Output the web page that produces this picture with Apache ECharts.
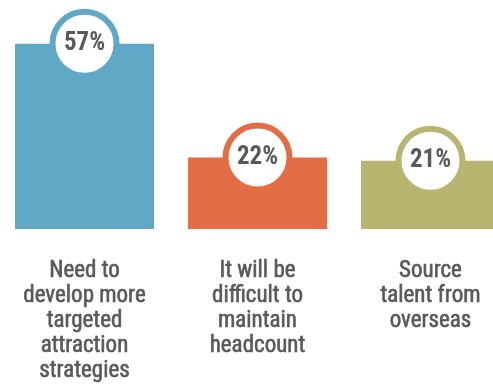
<!DOCTYPE html>
<html>
<head>
<meta charset="utf-8">
<script src="https://cdn.jsdelivr.net/npm/echarts@6/dist/echarts.min.js"></script>
<style>
  html, body { margin: 0; padding: 0; background: #fff; }
  #chart { width: 493px; height: 385px; }
</style>
</head>
<body>
<div id="chart"></div>
<script>
var categories = [
  'Need to\ndevelop more\ntargeted\nattraction\nstrategies',
  'It will be\ndifficult to\nmaintain\nheadcount',
  'Source\ntalent from\noverseas'
];
var values = [57, 22, 21];
var colors = ['#5fa8c6', '#e36d45', '#b8b570'];

var font = "'Liberation Sans Narrow', 'Roboto Condensed', 'Liberation Sans', sans-serif";

var chart = echarts.init(document.getElementById('chart'));
chart.setOption({
  animation: false,
  grid: { left: -2, width: 519, top: 34, height: 195, outerBoundsMode: 'none', containLabel: false },
  xAxis: {
    type: 'category',
    data: categories,
    axisLine: { show: false },
    axisTick: { show: false },
    axisLabel: {
      margin: 30,
      color: '#595959',
      fontFamily: font,
      fontSize: 23,
      lineHeight: 25,
      align: 'center',
      verticalAlign: 'top',
      interval: 0,
      textBorderColor: '#595959',
      textBorderWidth: 0.6
    }
  },
  yAxis: {
    type: 'value',
    min: 0,
    max: 60,
    show: false,
    splitLine: { show: false }
  },
  series: [
    {
      type: 'bar',
      barWidth: 139,
      data: values.map(function (v, i) {
        return { value: v, itemStyle: { color: colors[i] } };
      })
    },
    {
      type: 'scatter',
      symbol: 'circle',
      symbolSize: 64,
      z: 5,
      data: values.map(function (v, i) {
        return {
          value: v,
          itemStyle: { color: '#fff', borderColor: colors[i], borderWidth: 6, opacity: 1 }
        };
      }),
      label: {
        show: true,
        position: 'inside',
        formatter: '{c}%',
        color: '#595959',
        fontFamily: font,
        fontWeight: 'bold',
        fontSize: 25
      }
    }
  ]
});
</script>
</body>
</html>
